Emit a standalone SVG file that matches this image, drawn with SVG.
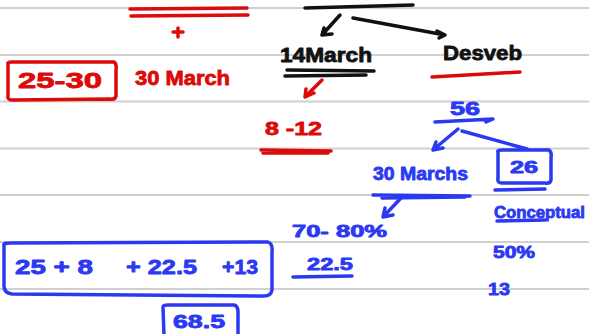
<svg xmlns="http://www.w3.org/2000/svg" width="589" height="334" viewBox="0 0 589 334">
<style>
.rule{stroke:#d0d0d0;stroke-width:2}
.t{font-family:"Liberation Sans",Arial,sans-serif;font-weight:bold;stroke-width:0.8;stroke-linejoin:round}
.red{fill:#dd0a0a;stroke:#dd0a0a}
.blue{fill:#2b3af2;stroke:#2b3af2}
.blk{fill:#111;stroke:#111}
.sr{stroke:#dd0a0a;fill:none;stroke-width:3.5;stroke-linecap:round;stroke-linejoin:round}
.sb{stroke:#2b3af2;fill:none;stroke-width:3.5;stroke-linecap:round;stroke-linejoin:round}
.sk{stroke:#111;fill:none;stroke-width:3.5;stroke-linecap:round;stroke-linejoin:round}
</style>
<rect width="589" height="334" fill="#ffffff"/>
<g id="rules">
<line class="rule" x1="0" y1="8" x2="589" y2="8"/>
<line class="rule" x1="0" y1="55" x2="589" y2="55"/>
<line class="rule" x1="0" y1="101.5" x2="589" y2="101.5"/>
<line class="rule" x1="0" y1="148.5" x2="589" y2="148.5"/>
<line class="rule" x1="0" y1="195" x2="589" y2="195"/>
<line class="rule" x1="0" y1="242" x2="589" y2="242"/>
<line class="rule" x1="0" y1="289" x2="589" y2="289"/>
</g>
<g id="connectors">
<path class="sr" d="M130,9 L247,8 M131,16 L248,15"/>
<path class="sr" d="M173,32 L183,32 M178,28 L178,37"/>
<path class="sk" d="M305,8 L413,5"/>
<path class="sk" d="M340,15 L322,35 M322,35 L324,28 M322,35 L332,34"/>
<path class="sk" d="M353,18 L445,35 M445,35 L437,31 M445,35 L439,38"/>
<path class="sk" d="M287,70 L374,71" stroke-width="3"/>
<path class="sk" d="M285,76 L366,75" stroke-width="3"/>
<path class="sr" d="M322,80 L305,97 M305,97 L306,89 M305,97 L314,93"/>
<path class="sr" d="M432,77 L520,72"/>
<path class="sr" d="M261,150 L331,151 M263,153 L328,153" stroke-width="3"/>
<path class="sb" d="M435,122 L493,119 L486,122"/>
<path class="sb" d="M458,129 L433,150 M433,150 L436,142 M433,150 L443,148"/>
<path class="sb" d="M462,131 L527,149"/>
<path class="sb" d="M495,190 L545,189"/>
<path class="sb" d="M373,195 L470,196 M382,198 L465,197" stroke-width="3"/>
<path class="sb" d="M402,197 L383,217 M383,217 L385,208 M383,217 L393,215"/>
<path class="sb" d="M497,221 L545,220" stroke-width="2.5"/>
<path class="sb" d="M293,277 L352,276" stroke-width="3"/>
</g>
<g id="node-25-30">
<path class="sr" d="M8,64 Q7,62 12,62 L114,62 Q117,64 116,70 L116,96 Q115,100 110,99 L12,100 Q7,100 8,95 Z"/>
<text class="t red" x="18" y="88" font-size="22" textLength="84" lengthAdjust="spacingAndGlyphs">25-30</text>
</g>
<g id="node-30march">
<text class="t red" x="135" y="85" font-size="20" textLength="95" lengthAdjust="spacingAndGlyphs">30 March</text>
</g>
<g id="node-14march">
<text class="t blk" x="280" y="62" font-size="20" textLength="92" lengthAdjust="spacingAndGlyphs">14March</text>
</g>
<g id="node-desveb">
<text class="t blk" x="443" y="60" font-size="21" textLength="79" lengthAdjust="spacingAndGlyphs">Desveb</text>
</g>
<g id="node-8-12">
<text class="t red" x="265" y="135" font-size="18" textLength="57" lengthAdjust="spacingAndGlyphs">8 -12</text>
</g>
<g id="node-56">
<text class="t blue" x="450" y="115" font-size="18" textLength="30" lengthAdjust="spacingAndGlyphs">56</text>
</g>
<g id="node-26">
<path class="sb" d="M498,152 Q497,150 502,150 L549,150 Q552,152 551,158 L551,180 Q550,184 545,183 L502,183 Q497,183 498,178 Z"/>
<text class="t blue" x="510" y="173" font-size="16" textLength="28" lengthAdjust="spacingAndGlyphs">26</text>
</g>
<g id="node-30marchs">
<text class="t blue" x="373" y="180" font-size="18" textLength="95" lengthAdjust="spacingAndGlyphs">30 Marchs</text>
</g>
<g id="node-conceptual">
<text class="t blue" x="494" y="218" font-size="16" textLength="91" lengthAdjust="spacingAndGlyphs">Conceptual</text>
</g>
<g id="node-70-80">
<text class="t blue" x="292" y="237" font-size="16" textLength="95" lengthAdjust="spacingAndGlyphs">70- 80%</text>
</g>
<g id="node-22-5">
<text class="t blue" x="307" y="270" font-size="17" textLength="46" lengthAdjust="spacingAndGlyphs">22.5</text>
</g>
<g id="node-50">
<text class="t blue" x="493" y="258" font-size="16" textLength="42" lengthAdjust="spacingAndGlyphs">50%</text>
</g>
<g id="node-13">
<text class="t blue" x="488" y="295" font-size="17" textLength="22" lengthAdjust="spacingAndGlyphs">13</text>
</g>
<g id="node-sum">
<path class="sb" d="M4,245 Q3,243 10,243 L268,242 Q273,244 272,252 L272,290 Q271,296 264,296 L12,294 Q4,293 4,286 Z"/>
<text class="t blue" font-size="20" y="274"><tspan x="15" textLength="78" lengthAdjust="spacingAndGlyphs">25 + 8</tspan><tspan x="126" textLength="71" lengthAdjust="spacingAndGlyphs">+ 22.5</tspan><tspan x="222" textLength="36" lengthAdjust="spacingAndGlyphs">+13</tspan></text>
</g>
<g id="node-68-5">
<path class="sb" d="M164,336 L163,307 Q163,305 168,305 L234,305 Q238,306 238,312 L238,336"/>
<text class="t blue" x="173" y="328" font-size="18" textLength="52" lengthAdjust="spacingAndGlyphs">68.5</text>
</g>
</svg>
